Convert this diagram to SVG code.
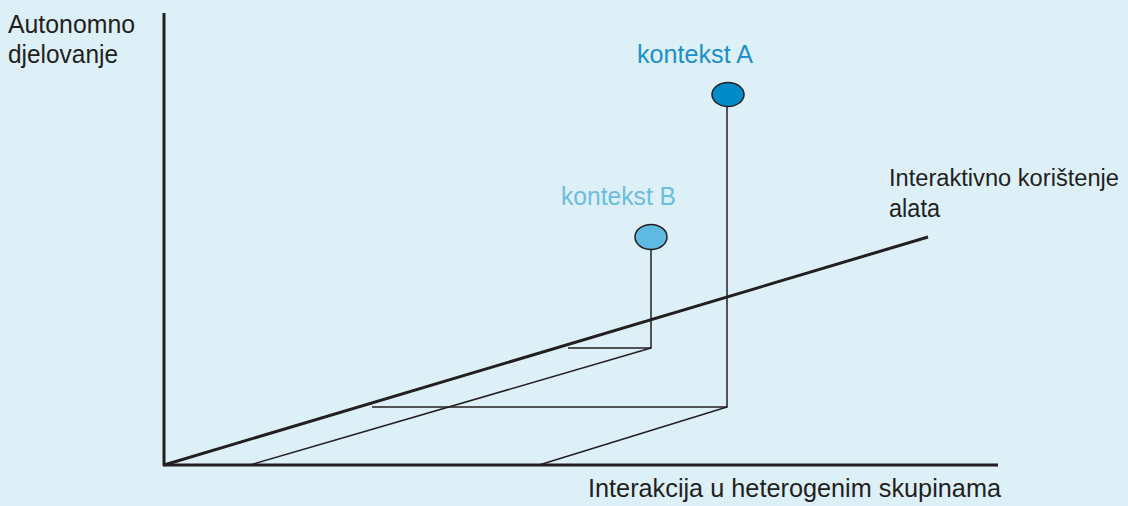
<svg xmlns="http://www.w3.org/2000/svg" width="1128" height="506" viewBox="0 0 1128 506">
<style>
text{font-family:"Liberation Sans",Arial,sans-serif;font-size:25px}
.lab{fill:#231f20}
.z{font-size:23px}
.axis{stroke:#231f20;stroke-width:3;fill:none}
.thin{stroke:#231f20;stroke-width:1.5;fill:none}
.dot{stroke:#231f20;stroke-width:1.5}
</style>
<rect width="1128" height="506" fill="#ddf0f8"/>
<g id="connectors">
<line class="axis" x1="164" y1="13" x2="164" y2="466"/>
<line class="axis" x1="163" y1="465" x2="998" y2="465"/>
<line class="axis" x1="164" y1="465" x2="928" y2="237"/>
<polyline class="thin" points="651,250 651,348 568,348"/>
<line class="thin" x1="651" y1="348" x2="250" y2="465"/>
<polyline class="thin" points="727,107 727,407 372,407"/>
<line class="thin" x1="727" y1="407" x2="539" y2="465"/>
</g>
<g id="axis-y-label"><text class="lab" x="8" y="33" textLength="127" lengthAdjust="spacingAndGlyphs">Autonomno</text><text class="lab" x="8" y="63" textLength="110" lengthAdjust="spacingAndGlyphs">djelovanje</text></g>
<g id="axis-z-label"><text class="lab z" x="889" y="186" textLength="230" lengthAdjust="spacingAndGlyphs">Interaktivno korištenje</text><text class="lab" x="889" y="217" textLength="51" lengthAdjust="spacingAndGlyphs">alata</text></g>
<g id="axis-x-label"><text class="lab" x="588" y="497" textLength="413" lengthAdjust="spacingAndGlyphs">Interakcija u heterogenim skupinama</text></g>
<g id="kontekst-a"><ellipse class="dot" cx="728" cy="94.5" rx="16" ry="12" fill="#008bc6"/><text x="637" y="63" fill="#1b8fc7" textLength="116" lengthAdjust="spacingAndGlyphs">kontekst A</text></g>
<g id="kontekst-b"><ellipse class="dot" cx="651" cy="237" rx="16" ry="12.5" fill="#5ebae0"/><text x="561" y="205" fill="#6bbde0" textLength="115" lengthAdjust="spacingAndGlyphs">kontekst B</text></g>
</svg>
